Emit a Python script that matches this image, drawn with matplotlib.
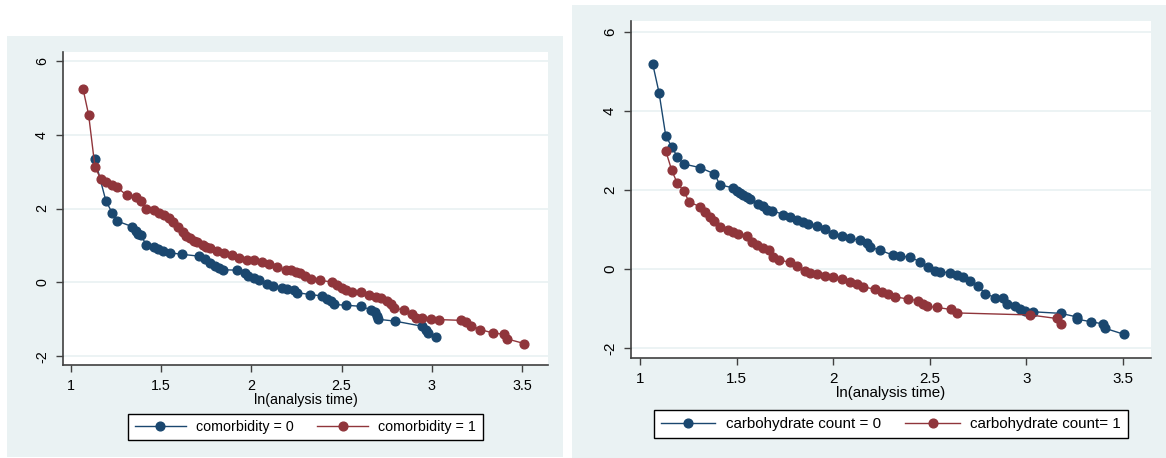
import matplotlib
matplotlib.use("Agg")
import matplotlib.pyplot as plt
from matplotlib.patches import Rectangle

# -------- datos --------
x_tick_labels = ["1", "1.5", "2", "2.5", "3", "3.5"]
x_ticks = [1, 1.5, 2, 2.5, 3, 3.5]
y_ticks = [-2, 0, 2, 4, 6]

como0_x = [1.133, 1.194, 1.228, 1.256, 1.339, 1.359, 1.374, 1.391, 1.415, 1.461,
           1.485, 1.509, 1.548, 1.613, 1.707, 1.743, 1.772, 1.800, 1.822, 1.843,
           1.918, 1.963, 1.983, 2.013, 2.040, 2.087, 2.120, 2.167, 2.198, 2.235,
           2.254, 2.324, 2.394, 2.420, 2.439, 2.457, 2.522, 2.606, 2.661, 2.683,
           2.698, 2.700, 2.794, 2.948, 2.970, 2.978, 3.022]
como0_y = [3.34, 2.20, 1.89, 1.66, 1.51, 1.39, 1.32, 1.27, 1.02, 0.96,
           0.89, 0.84, 0.80, 0.76, 0.71, 0.63, 0.53, 0.45, 0.39, 0.34,
           0.33, 0.26, 0.18, 0.12, 0.06, -0.04, -0.10, -0.16, -0.19, -0.22,
           -0.28, -0.33, -0.37, -0.46, -0.51, -0.60, -0.62, -0.65, -0.74, -0.81,
           -0.90, -1.00, -1.05, -1.19, -1.28, -1.37, -1.49]

como1_x = [1.067, 1.098, 1.133, 1.165, 1.194, 1.226, 1.256, 1.309, 1.363, 1.387,
           1.415, 1.461, 1.487, 1.513, 1.544, 1.568, 1.593, 1.620, 1.640, 1.661,
           1.680, 1.698, 1.730, 1.750, 1.772, 1.810, 1.846, 1.893, 1.930, 1.976,
           2.013, 2.060, 2.096, 2.143, 2.190, 2.217, 2.250, 2.272, 2.300, 2.328,
           2.383, 2.448, 2.476, 2.500, 2.522, 2.559, 2.606, 2.652, 2.690, 2.717,
           2.754, 2.775, 2.791, 2.847, 2.892, 2.911, 2.948, 2.994, 3.040, 3.161,
           3.189, 3.217, 3.269, 3.337, 3.402, 3.415, 3.513]
como1_y = [5.24, 4.54, 3.13, 2.80, 2.72, 2.63, 2.57, 2.36, 2.30, 2.19,
           1.99, 1.95, 1.87, 1.82, 1.73, 1.64, 1.50, 1.36, 1.26, 1.19,
           1.13, 1.08, 1.00, 0.97, 0.94, 0.85, 0.80, 0.73, 0.67, 0.60,
           0.60, 0.54, 0.49, 0.42, 0.34, 0.33, 0.28, 0.24, 0.17, 0.10,
           0.05, 0.01, -0.08, -0.15, -0.22, -0.26, -0.26, -0.35, -0.39, -0.42,
           -0.51, -0.60, -0.69, -0.76, -0.87, -0.96, -0.96, -0.99, -1.01, -1.03,
           -1.08, -1.17, -1.28, -1.37, -1.41, -1.53, -1.66]

carb0_x = [1.066, 1.098, 1.133, 1.166, 1.193, 1.226, 1.310, 1.385, 1.414, 1.480,
           1.500, 1.518, 1.535, 1.552, 1.569, 1.612, 1.635, 1.656, 1.685, 1.742,
           1.776, 1.811, 1.845, 1.871, 1.914, 1.958, 2.000, 2.044, 2.087, 2.139,
           2.173, 2.190, 2.242, 2.311, 2.346, 2.397, 2.449, 2.490, 2.527, 2.553,
           2.604, 2.639, 2.673, 2.708, 2.751, 2.786, 2.837, 2.880, 2.898, 2.941,
           2.967, 2.993, 3.033, 3.178, 3.261, 3.264, 3.333, 3.399, 3.408, 3.505]
carb0_y = [5.18, 4.47, 3.37, 3.08, 2.84, 2.66, 2.57, 2.41, 2.13, 2.06,
           1.98, 1.93, 1.87, 1.83, 1.77, 1.65, 1.59, 1.49, 1.48, 1.38,
           1.31, 1.25, 1.20, 1.15, 1.09, 1.02, 0.90, 0.84, 0.78, 0.73,
           0.65, 0.56, 0.48, 0.35, 0.33, 0.30, 0.19, 0.06, -0.04, -0.07,
           -0.09, -0.15, -0.21, -0.30, -0.43, -0.62, -0.72, -0.74, -0.89, -0.94,
           -1.02, -1.05, -1.08, -1.12, -1.21, -1.27, -1.33, -1.39, -1.50, -1.65]

carb1_x = [1.133, 1.164, 1.193, 1.226, 1.254, 1.310, 1.336, 1.362, 1.385, 1.414,
           1.457, 1.483, 1.509, 1.552, 1.578, 1.604, 1.635, 1.669, 1.690, 1.721,
           1.776, 1.811, 1.854, 1.880, 1.914, 1.958, 2.000, 2.044, 2.087, 2.121,
           2.156, 2.216, 2.251, 2.285, 2.320, 2.389, 2.440, 2.466, 2.484, 2.536,
           2.608, 2.643, 3.019, 3.157, 3.180]
carb1_y = [2.99, 2.50, 2.17, 1.98, 1.70, 1.58, 1.45, 1.31, 1.22, 1.07,
           0.99, 0.93, 0.88, 0.84, 0.69, 0.61, 0.54, 0.48, 0.31, 0.23,
           0.17, 0.08, -0.04, -0.09, -0.13, -0.17, -0.19, -0.24, -0.32, -0.38,
           -0.45, -0.51, -0.57, -0.62, -0.70, -0.76, -0.80, -0.89, -0.94, -0.97,
           -1.02, -1.11, -1.16, -1.25, -1.38]

# -------- estilo --------
plt.rcParams["font.family"] = ["Liberation Sans", "DejaVu Sans"]
fondo = "#EAF2F3"
azul = "#1A476F"
rojo = "#90353B"
eje = "#404040"

W, H = 1166, 458
fig = plt.figure(figsize=(W / 100, H / 100), dpi=100)
fig.patch.set_facecolor("white")


def caja(x0, y0, x1, y1):
    # rectangulo de fondo en pixeles (origen arriba a la izquierda)
    fig.patches.append(Rectangle((x0 / W, 1 - y1 / H), (x1 - x0) / W, (y1 - y0) / H,
                                 transform=fig.transFigure, facecolor=fondo,
                                 edgecolor="none", zorder=-10))


def ejes(x0, y0, x1, y1):
    return fig.add_axes([x0 / W, 1 - y1 / H, (x1 - x0) / W, (y1 - y0) / H])


def panel(ax, xa, ya, xb, yb, lab_a, lab_b, xlim, ylim, leg_y, fs):
    ax.set_facecolor("white")
    ax.plot(xa, ya, color=azul, marker="o", markersize=6.3, linewidth=1.0,
            label=lab_a, zorder=3)
    ax.plot(xb, yb, color=rojo, marker="o", markersize=6.3, linewidth=1.0,
            label=lab_b, zorder=3)

    ax.set_xlim(*xlim)
    ax.set_ylim(*ylim)
    ax.set_xticks(x_ticks)
    ax.set_xticklabels(x_tick_labels)
    ax.set_yticks(y_ticks)
    ax.set_yticklabels([str(v) for v in y_ticks], rotation=90, va="center")
    ax.tick_params(axis="both", length=5, width=1, color=eje, labelsize=fs,
                   labelcolor="black", pad=5)

    # lineas horizontales tenues
    for v in y_ticks:
        ax.axhline(v, color=fondo, linewidth=1.3, zorder=1)

    for lado in ["top", "right"]:
        ax.spines[lado].set_visible(False)
    for lado in ["left", "bottom"]:
        ax.spines[lado].set_color(eje)
        ax.spines[lado].set_linewidth(1.2)

    ax.set_xlabel("ln(analysis time)", fontsize=fs, labelpad=0)

    leg = ax.legend(loc="center", bbox_to_anchor=(0.5, leg_y), ncol=2,
                    fontsize=fs, frameon=True, fancybox=False, framealpha=1,
                    edgecolor="black", handlelength=3.6, columnspacing=1.6,
                    borderpad=0.45, handletextpad=0.7)
    leg.get_frame().set_linewidth(1.0)


# -------- panel izquierdo --------
caja(7, 36, 563, 457)
ax1 = ejes(63, 52, 548, 365)
panel(ax1, como0_x, como0_y, como1_x, como1_y,
      "comorbidity = 0", "comorbidity = 1",
      (0.956, 3.644), (-2.24, 6.24), -0.198, 10.3)

# -------- panel derecho --------
caja(572, 5, 1166, 458)
ax2 = ejes(631, 21, 1151, 358)
panel(ax2, carb0_x, carb0_y, carb1_x, carb1_y,
      "carbohydrate count = 0", "carbohydrate count= 1",
      (0.953, 3.645), (-2.25, 6.28), -0.196, 10.9)

fig.savefig("out.png", dpi=100, facecolor="white")
